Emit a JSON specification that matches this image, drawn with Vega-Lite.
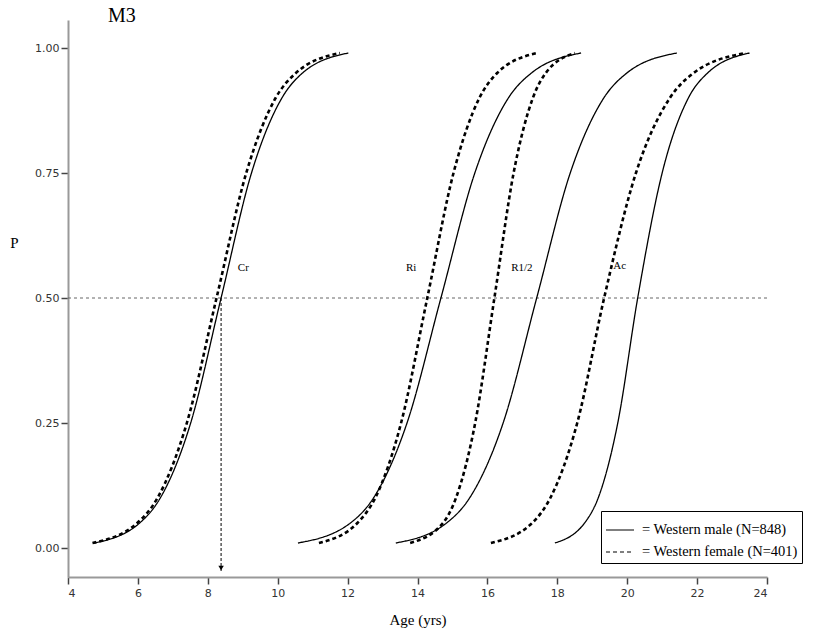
{
  "$schema": "https://vega.github.io/schema/vega-lite/v6.json",
  "autosize": "none",
  "width": 699,
  "height": 557,
  "padding": {"left": 68, "top": 20, "right": 55, "bottom": 56},
  "background": "white",
  "config": {"view": {"stroke": null}},
  "title": {"text": "M3", "anchor": "start", "frame": "group", "dx": 40, "dy": 22, "offset": 0, "baseline": "alphabetic", "font": "Liberation Serif", "fontSize": 20, "fontWeight": "normal", "color": "#000"},
  "datasets": {
    "curves": [
      {"curve": "Cr", "sex": "male", "age": 4.75, "p": 0.01},
      {"curve": "Cr", "sex": "male", "age": 6.05, "p": 0.05},
      {"curve": "Cr", "sex": "male", "age": 6.64, "p": 0.1},
      {"curve": "Cr", "sex": "male", "age": 7.51, "p": 0.25},
      {"curve": "Cr", "sex": "male", "age": 8.38, "p": 0.5},
      {"curve": "Cr", "sex": "male", "age": 9.25, "p": 0.75},
      {"curve": "Cr", "sex": "male", "age": 10.12, "p": 0.9},
      {"curve": "Cr", "sex": "male", "age": 10.71, "p": 0.95},
      {"curve": "Cr", "sex": "male", "age": 12.02, "p": 0.99},
      {"curve": "Cr", "sex": "female", "age": 4.7, "p": 0.01},
      {"curve": "Cr", "sex": "female", "age": 5.98, "p": 0.05},
      {"curve": "Cr", "sex": "female", "age": 6.56, "p": 0.1},
      {"curve": "Cr", "sex": "female", "age": 7.4, "p": 0.25},
      {"curve": "Cr", "sex": "female", "age": 8.25, "p": 0.5},
      {"curve": "Cr", "sex": "female", "age": 9.1, "p": 0.75},
      {"curve": "Cr", "sex": "female", "age": 9.94, "p": 0.9},
      {"curve": "Cr", "sex": "female", "age": 10.52, "p": 0.95},
      {"curve": "Cr", "sex": "female", "age": 11.78, "p": 0.99},
      {"curve": "Ri", "sex": "male", "age": 10.58, "p": 0.01},
      {"curve": "Ri", "sex": "male", "age": 12.08, "p": 0.05},
      {"curve": "Ri", "sex": "male", "age": 12.74, "p": 0.1},
      {"curve": "Ri", "sex": "male", "age": 13.7, "p": 0.25},
      {"curve": "Ri", "sex": "male", "age": 14.67, "p": 0.5},
      {"curve": "Ri", "sex": "male", "age": 15.64, "p": 0.75},
      {"curve": "Ri", "sex": "male", "age": 16.6, "p": 0.9},
      {"curve": "Ri", "sex": "male", "age": 17.26, "p": 0.95},
      {"curve": "Ri", "sex": "male", "age": 18.68, "p": 0.99},
      {"curve": "Ri", "sex": "female", "age": 11.18, "p": 0.01},
      {"curve": "Ri", "sex": "female", "age": 12.28, "p": 0.05},
      {"curve": "Ri", "sex": "female", "age": 12.79, "p": 0.1},
      {"curve": "Ri", "sex": "female", "age": 13.53, "p": 0.25},
      {"curve": "Ri", "sex": "female", "age": 14.28, "p": 0.5},
      {"curve": "Ri", "sex": "female", "age": 15.03, "p": 0.75},
      {"curve": "Ri", "sex": "female", "age": 15.77, "p": 0.9},
      {"curve": "Ri", "sex": "female", "age": 16.28, "p": 0.95},
      {"curve": "Ri", "sex": "female", "age": 17.42, "p": 0.99},
      {"curve": "R1/2", "sex": "male", "age": 13.38, "p": 0.01},
      {"curve": "R1/2", "sex": "male", "age": 14.83, "p": 0.05},
      {"curve": "R1/2", "sex": "male", "age": 15.49, "p": 0.1},
      {"curve": "R1/2", "sex": "male", "age": 16.45, "p": 0.25},
      {"curve": "R1/2", "sex": "male", "age": 17.41, "p": 0.5},
      {"curve": "R1/2", "sex": "male", "age": 18.37, "p": 0.75},
      {"curve": "R1/2", "sex": "male", "age": 19.33, "p": 0.9},
      {"curve": "R1/2", "sex": "male", "age": 19.99, "p": 0.95},
      {"curve": "R1/2", "sex": "male", "age": 21.42, "p": 0.99},
      {"curve": "R1/2", "sex": "female", "age": 13.79, "p": 0.01},
      {"curve": "R1/2", "sex": "female", "age": 14.73, "p": 0.05},
      {"curve": "R1/2", "sex": "female", "age": 15.1, "p": 0.1},
      {"curve": "R1/2", "sex": "female", "age": 15.65, "p": 0.25},
      {"curve": "R1/2", "sex": "female", "age": 16.2, "p": 0.5},
      {"curve": "R1/2", "sex": "female", "age": 16.75, "p": 0.75},
      {"curve": "R1/2", "sex": "female", "age": 17.3, "p": 0.9},
      {"curve": "R1/2", "sex": "female", "age": 17.67, "p": 0.95},
      {"curve": "R1/2", "sex": "female", "age": 18.5, "p": 0.99},
      {"curve": "Ac", "sex": "male", "age": 17.93, "p": 0.01},
      {"curve": "Ac", "sex": "male", "age": 18.78, "p": 0.05},
      {"curve": "Ac", "sex": "male", "age": 19.17, "p": 0.1},
      {"curve": "Ac", "sex": "male", "age": 19.73, "p": 0.25},
      {"curve": "Ac", "sex": "male", "age": 20.3, "p": 0.5},
      {"curve": "Ac", "sex": "male", "age": 21.0, "p": 0.75},
      {"curve": "Ac", "sex": "male", "age": 21.75, "p": 0.9},
      {"curve": "Ac", "sex": "male", "age": 22.3, "p": 0.95},
      {"curve": "Ac", "sex": "male", "age": 23.5, "p": 0.99},
      {"curve": "Ac", "sex": "female", "age": 16.1, "p": 0.01},
      {"curve": "Ac", "sex": "female", "age": 17.28, "p": 0.05},
      {"curve": "Ac", "sex": "female", "age": 17.8, "p": 0.1},
      {"curve": "Ac", "sex": "female", "age": 18.57, "p": 0.25},
      {"curve": "Ac", "sex": "female", "age": 19.34, "p": 0.5},
      {"curve": "Ac", "sex": "female", "age": 20.25, "p": 0.75},
      {"curve": "Ac", "sex": "female", "age": 21.22, "p": 0.9},
      {"curve": "Ac", "sex": "female", "age": 21.9, "p": 0.95},
      {"curve": "Ac", "sex": "female", "age": 23.4, "p": 0.99}
    ],
    "labels": [
      {"text": "Cr", "age": 8.86, "p": 0.56},
      {"text": "Ri", "age": 13.67, "p": 0.56},
      {"text": "R1/2", "age": 16.68, "p": 0.56},
      {"text": "Ac", "age": 19.6, "p": 0.564}
    ]
  },
  "layer": [
    {
      "data": {"values": [{"p": 0.5}]},
      "mark": {"type": "rule", "color": "#666", "strokeDash": [3, 3], "strokeWidth": 1},
      "encoding": {"y": {"field": "p", "type": "quantitative", "scale": {"domain": [-0.058, 1.056], "nice": false, "zero": false}}}
    },
    {
      "data": {"values": [{"age": 8.38, "p": 0.5, "p2": -0.048}]},
      "mark": {"type": "rule", "color": "#000", "strokeDash": [3, 2], "strokeWidth": 1},
      "encoding": {
        "x": {"field": "age", "type": "quantitative"},
        "y": {"field": "p", "type": "quantitative"},
        "y2": {"field": "p2"}
      }
    },
    {
      "data": {"values": [{"age": 8.38, "p": -0.04}]},
      "mark": {"type": "point", "shape": "triangle-down", "filled": true, "color": "#000", "size": 30, "opacity": 1},
      "encoding": {
        "x": {"field": "age", "type": "quantitative"},
        "y": {"field": "p", "type": "quantitative"}
      }
    },
    {
      "data": {"name": "curves"},
      "transform": [{"filter": "datum.sex == 'male'"}],
      "mark": {"type": "line", "interpolate": "monotone", "color": "#000", "strokeWidth": 1.3},
      "encoding": {
        "x": {"field": "age", "type": "quantitative", "scale": {"domain": [4, 24], "nice": false, "zero": false},
          "axis": {"title": "Age (yrs)", "values": [4, 6, 8, 10, 12, 14, 16, 18, 20, 22, 24], "grid": false, "domainColor": "#999", "domainWidth": 2, "tickColor": "#444", "tickWidth": 1.5, "tickSize": 7, "labelFont": "DejaVu Sans", "labelFontSize": 11, "labelColor": "#333", "labelPadding": 3, "titleFont": "Liberation Serif", "titleFontSize": 15, "titleFontWeight": "normal", "titleColor": "#000", "titlePadding": 14}},
        "y": {"field": "p", "type": "quantitative", "scale": {"domain": [-0.058, 1.056], "nice": false, "zero": false},
          "axis": {"title": "P", "values": [0, 0.25, 0.5, 0.75, 1], "format": ".2f", "grid": false, "domainColor": "#999", "domainWidth": 2, "tickColor": "#444", "tickWidth": 1.5, "tickSize": 7, "labelFont": "DejaVu Sans", "labelFontSize": 11, "labelColor": "#333", "labelPadding": 2, "titleFont": "Liberation Serif", "titleFontSize": 15, "titleFontWeight": "normal", "titleColor": "#000", "titleAngle": 0, "titleX": -54, "titleY": 222, "titleAlign": "center", "titleBaseline": "middle"}},
        "detail": {"field": "curve"},
        "order": {"field": "p", "type": "quantitative"},
        "strokeDash": {"field": "sex", "type": "nominal", "scale": {"domain": ["male", "female"], "range": [[1, 0], [4, 3]]},
          "legend": {"title": null, "orient": "none", "legendX": 533, "legendY": 491, "direction": "vertical", "strokeColor": "#000", "fillColor": "white", "padding": 4, "rowPadding": 0, "labelOffset": 7, "symbolType": "stroke", "symbolSize": 784, "symbolStrokeColor": "#000", "symbolStrokeWidth": 1.1, "labelFont": "Liberation Serif", "labelFontSize": 14.5, "labelColor": "#000", "labelExpr": "datum.label == 'male' ? '= Western  male (N=848)' : '= Western female (N=401)'"}}
      }
    },
    {
      "data": {"name": "curves"},
      "transform": [{"filter": "datum.sex == 'female'"}],
      "mark": {"type": "line", "interpolate": "monotone", "color": "#000", "strokeWidth": 2.6},
      "encoding": {
        "x": {"field": "age", "type": "quantitative"},
        "y": {"field": "p", "type": "quantitative"},
        "detail": {"field": "curve"},
        "order": {"field": "p", "type": "quantitative"},
        "strokeDash": {"field": "sex", "type": "nominal"}
      }
    },
    {
      "data": {"name": "labels"},
      "mark": {"type": "text", "align": "left", "baseline": "middle", "font": "Liberation Serif", "fontSize": 11, "color": "#000"},
      "encoding": {
        "x": {"field": "age", "type": "quantitative"},
        "y": {"field": "p", "type": "quantitative"},
        "text": {"field": "text"}
      }
    }
  ]
}
